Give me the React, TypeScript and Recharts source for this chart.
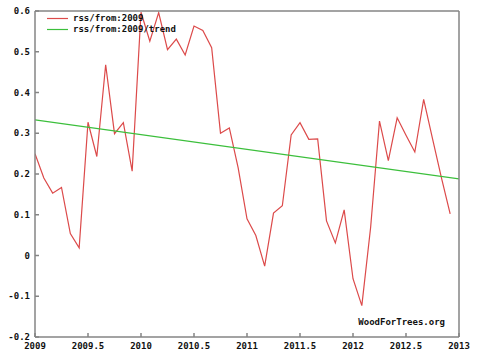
import React from 'react';
import { LineChart, Line, XAxis, YAxis, Legend } from 'recharts';

const START_YEAR = 2009;

// RSS monthly anomalies, Jan 2009 .. Dec 2012
const rssValues = [
  0.25, 0.19, 0.153, 0.167, 0.054, 0.019, 0.327, 0.243, 0.468, 0.299, 0.326, 0.207,
  0.597, 0.526, 0.596, 0.505, 0.531, 0.492, 0.563, 0.552, 0.51, 0.3, 0.313, 0.215,
  0.09, 0.049, -0.026, 0.104, 0.122, 0.296, 0.326, 0.285, 0.286, 0.085, 0.031, 0.112,
  -0.057, -0.123, 0.07, 0.33, 0.233, 0.338, 0.295, 0.254, 0.383, 0.287, 0.192, 0.102,
];

const trendYears = [2009, 2013];
const trendValues = [0.333, 0.188];

const xTicks = [2009, 2009.5, 2010, 2010.5, 2011, 2011.5, 2012, 2012.5, 2013];
const yTicks = [-0.2, -0.1, 0, 0.1, 0.2, 0.3, 0.4, 0.5, 0.6];

const rssData = rssValues.map((y, i) => ({ x: START_YEAR + i / 12, y }));
const trendData = trendYears.map((x, i) => ({ x, y: trendValues[i] }));

const FONT = '"DejaVu Sans Mono", monospace';
const frame = '#858585';
const tickFont = { fill: '#111', fontSize: 9, fontFamily: FONT, fontWeight: 'bold' };

const renderLegend = (props: any) => {
  const items = props.payload || [];
  return (
    <div style={{ fontFamily: FONT, fontSize: 9, fontWeight: 'bold', color: '#111' }}>
      {items.map((entry: any) => (
        <div key={entry.value} style={{ display: 'flex', alignItems: 'center', height: 10.7 }}>
          <svg width={21} height={3} style={{ display: 'block' }}>
            <line x1={0} y1={1.5} x2={21} y2={1.5} stroke={entry.color} strokeWidth={1.2} />
          </svg>
          <span style={{ marginLeft: 5, lineHeight: '10px' }}>{entry.value}</span>
        </div>
      ))}
    </div>
  );
};

export default function App() {
  return (
    <div style={{ position: 'absolute', left: 0, top: 0, width: 480, height: 359, background: '#fff' }}>
      <LineChart width={480} height={359} margin={{ top: 0, right: 0, bottom: 0, left: 0 }}>
        <XAxis
          xAxisId="b"
          dataKey="x"
          type="number"
          domain={[2009, 2013]}
          ticks={xTicks}
          interval={0}
          allowDataOverflow
          height={22}
          tickSize={-4}
          tickMargin={10}
          stroke={frame}
          strokeWidth={1.5}
          tick={tickFont}
          tickFormatter={(v: number) => String(v)}
        />
        <XAxis
          xAxisId="t"
          orientation="top"
          type="number"
          domain={[2009, 2013]}
          ticks={xTicks}
          interval={0}
          height={11}
          tickSize={-4}
          stroke={frame}
          strokeWidth={1.5}
          tickFormatter={() => ''}
        />
        <YAxis
          yAxisId="l"
          type="number"
          domain={[-0.2, 0.6]}
          ticks={yTicks}
          interval={0}
          allowDataOverflow
          width={35}
          tickSize={-4}
          tickMargin={9}
          stroke={frame}
          strokeWidth={1.5}
          tick={tickFont}
          tickFormatter={(v: number) => String(v)}
        />
        <YAxis
          yAxisId="r"
          orientation="right"
          type="number"
          domain={[-0.2, 0.6]}
          ticks={yTicks}
          interval={0}
          width={21}
          tickSize={-4}
          stroke={frame}
          strokeWidth={1.5}
          tickFormatter={() => ''}
        />
        <Legend
          layout="vertical"
          align="center"
          verticalAlign="middle"
          content={renderLegend}
          wrapperStyle={{ position: 'absolute', left: 47, top: 13, width: 'auto', height: 'auto' }}
        />
        <Line
          xAxisId="b"
          yAxisId="l"
          data={rssData}
          dataKey="y"
          name="rss/from:2009"
          stroke="#dc4a4a"
          strokeWidth={1.2}
          dot={false}
          isAnimationActive={false}
        />
        <Line
          xAxisId="b"
          yAxisId="l"
          data={trendData}
          dataKey="y"
          name="rss/from:2009/trend"
          stroke="#3cbf3c"
          strokeWidth={1.2}
          dot={false}
          isAnimationActive={false}
        />
      </LineChart>
      <div
        style={{
          position: 'absolute',
          right: 35,
          top: 316.7,
          lineHeight: '10px',
          fontFamily: FONT,
          fontSize: 9,
          fontWeight: 'bold',
          color: '#111',
        }}
      >
        WoodForTrees.org
      </div>
    </div>
  );
}
